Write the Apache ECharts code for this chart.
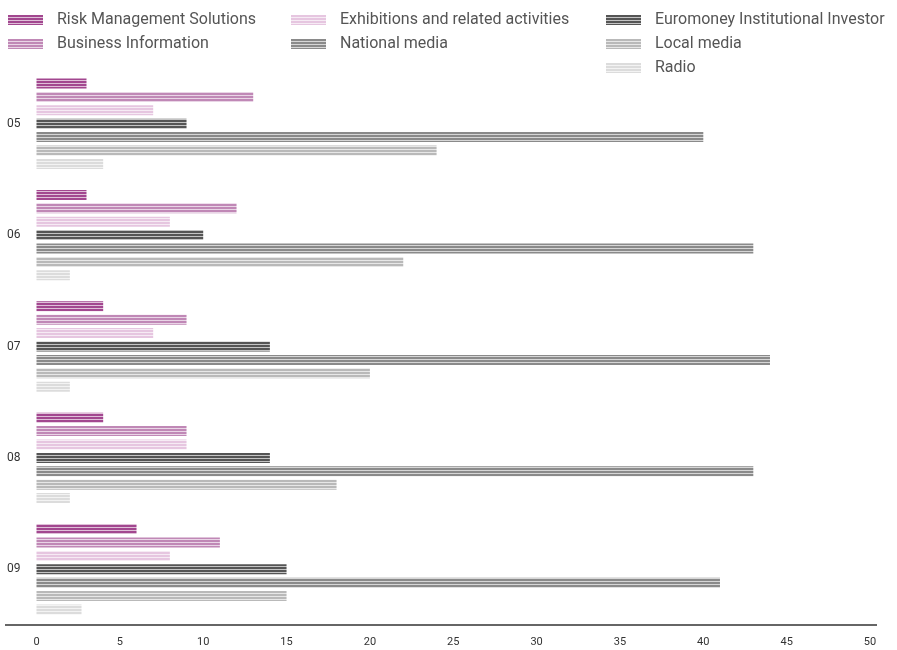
<!DOCTYPE html>
<html>
<head>
<meta charset="utf-8">
<script src="https://cdn.jsdelivr.net/npm/echarts@6/dist/echarts.min.js"></script>
<style>
  html, body { margin: 0; padding: 0; background: #fff; }
  #chart { width: 897px; height: 650px; }
</style>
</head>
<body>
<div id="chart"></div>
<script>
var years = ["05", "06", "07", "08", "09"];
var xTicks = [0, 5, 10, 15, 20, 25, 30, 35, 40, 45, 50];

var riskManagement = [3, 3, 4, 4, 6];
var businessInfo = [13, 12, 9, 9, 11];
var exhibitions = [7, 8, 7, 9, 8];
var euromoney = [9, 10, 14, 14, 15];
var nationalMedia = [40, 43, 44, 43, 41];
var localMedia = [24, 22, 20, 18, 15];
var radio = [4, 2, 2, 2, 2.7];

var seriesNames = [
  "Risk Management Solutions",
  "Business Information",
  "Exhibitions and related activities",
  "Euromoney Institutional Investor",
  "National media",
  "Local media",
  "Radio"
];
var seriesData = [riskManagement, businessInfo, exhibitions, euromoney, nationalMedia, localMedia, radio];
var colors = ["#a2478f", "#c088b6", "#e6c6e0", "#555555", "#8a8a8a", "#b9b9b9", "#dcdcdc"];

// striped fill: 2px colour, 1px pale line
function stripes(color) {
  var c = document.createElement("canvas");
  c.width = 4;
  c.height = 3;
  var ctx = c.getContext("2d");
  ctx.fillStyle = color;
  ctx.fillRect(0, 0, 4, 2);
  ctx.globalAlpha = 0.35;
  ctx.fillRect(0, 2, 4, 1);
  return { image: c, repeat: "repeat" };
}

var chart = echarts.init(document.getElementById("chart"));

var legendBase = {
  orient: "vertical",
  top: 7,
  itemWidth: 35,
  itemHeight: 10,
  itemGap: 8,
  icon: "rect",
  selectedMode: false,
  textStyle: { color: "#555", fontSize: 16, lineHeight: 16, fontFamily: "Roboto", padding: [0, 0, 0, 9] }
};

var option = {
  animation: false,
  legend: [
    Object.assign({}, legendBase, { left: 3, data: seriesNames.slice(0, 2) }),
    Object.assign({}, legendBase, { left: 286, data: [seriesNames[2], seriesNames[4]] }),
    Object.assign({}, legendBase, { left: 601, data: [seriesNames[3], seriesNames[5], seriesNames[6]] })
  ],
  grid: { left: 36.5, right: 27, top: 68, bottom: 25 },
  xAxis: {
    type: "value",
    min: xTicks[0],
    max: xTicks[xTicks.length - 1],
    interval: 5,
    axisLine: { show: false },
    axisTick: { show: false },
    splitLine: { show: false },
    axisLabel: { color: "#333", fontSize: 11, fontFamily: "Roboto", margin: 12 }
  },
  yAxis: {
    type: "category",
    data: years,
    inverse: true,
    axisLine: { show: false },
    axisTick: { show: false },
    axisLabel: { color: "#333", fontSize: 12, fontFamily: "Roboto", margin: 16 }
  },
  graphic: [
    {
      type: "line",
      shape: { x1: 5, y1: 625, x2: 877, y2: 625 },
      style: { stroke: "#333", lineWidth: 1.5 }
    }
  ],
  series: seriesNames.map(function (name, i) {
    return {
      name: name,
      type: "bar",
      data: seriesData[i],
      barWidth: 10,
      barGap: "34%",
      itemStyle: { color: stripes(colors[i]) }
    };
  })
};

chart.setOption(option);
</script>
</body>
</html>
